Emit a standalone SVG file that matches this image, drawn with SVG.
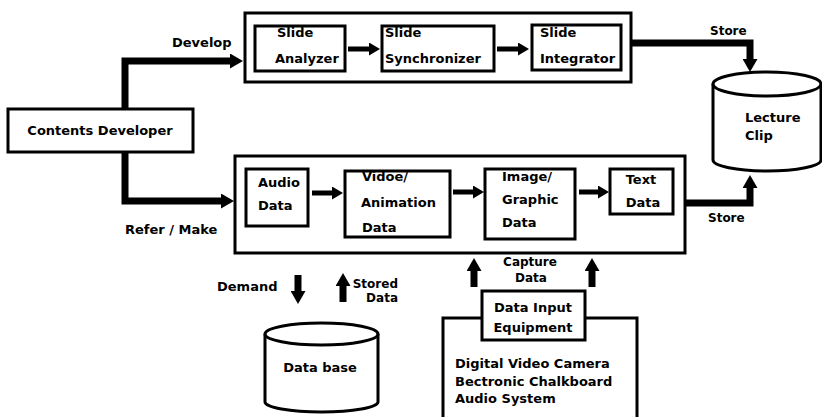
<svg xmlns="http://www.w3.org/2000/svg" width="822" height="417" viewBox="0 0 822 417">
<defs>
<marker id="bigHead" markerUnits="userSpaceOnUse" markerWidth="13" markerHeight="15" refX="0" refY="7.5" orient="auto">
<path d="M0,0 L13,7.5 L0,15 z" fill="#000"/>
</marker>
<marker id="smallHead" markerUnits="userSpaceOnUse" markerWidth="11" markerHeight="13" refX="0" refY="6.5" orient="auto">
<path d="M0,0 L11,6.5 L0,13 z" fill="#000"/>
</marker>
</defs>
<style>
.box{fill:#fff;stroke:#000;stroke-width:3}
.open{fill:none;stroke:#000;stroke-width:3}
.cyl{fill:#fff;stroke:#000;stroke-width:3}
.big{fill:none;stroke:#000;stroke-width:7;marker-end:url(#bigHead)}
.small{fill:none;stroke:#000;stroke-width:5;marker-end:url(#smallHead)}
text{font-family:"DejaVu Sans","Liberation Sans",sans-serif;font-weight:bold;fill:#000;font-size:13px}
.lbl{font-size:12px}
.mid{text-anchor:middle}
.end{text-anchor:end}
</style>
<rect width="822" height="417" fill="#fff"/>

<g id="contents-developer">
<rect class="box" x="8" y="109" width="185" height="43"/>
<text class="mid" x="100" y="135">Contents Developer</text>
</g>

<g id="slide-group">
<rect class="box" x="245" y="13" width="386" height="69"/>
</g>
<g id="slide-analyzer">
<rect class="box" x="255" y="26" width="90" height="45"/>
<text x="277" y="37">Slide</text>
<text x="275" y="63">Analyzer</text>
</g>
<g id="slide-synchronizer">
<rect class="box" x="382" y="26" width="112" height="45"/>
<text x="385" y="37">Slide</text>
<text x="385" y="63" font-size="13.5">Synchronizer</text>
</g>
<g id="slide-integrator">
<rect class="box" x="532" y="25" width="89" height="45"/>
<text x="540" y="37">Slide</text>
<text x="540" y="63">Integrator</text>
</g>

<g id="media-group">
<rect class="box" x="235" y="156" width="450" height="97"/>
</g>
<g id="audio-data">
<rect class="box" x="246" y="169" width="62" height="57"/>
<text x="258" y="187">Audio</text>
<text x="258" y="210">Data</text>
</g>
<g id="video-data">
<rect class="box" x="345" y="171" width="105" height="66"/>
<text x="362" y="181">Vidoe/</text>
<text x="361" y="207">Animation</text>
<text x="362" y="232">Data</text>
</g>
<g id="image-data">
<rect class="box" x="485" y="169" width="90" height="70"/>
<text x="502" y="181">Image/</text>
<text x="502" y="204">Graphic</text>
<text x="502" y="227">Data</text>
</g>
<g id="text-data">
<rect class="box" x="610" y="169" width="63" height="45"/>
<text class="mid" x="641" y="184">Text</text>
<text class="mid" x="643" y="207">Data</text>
</g>

<g id="lecture-clip">
<path class="cyl" d="M713,84 V160 A54,11 0 0 0 821,160 V84"/>
<ellipse class="cyl" cx="767" cy="84" rx="54" ry="12"/>
<text x="745" y="122">Lecture</text>
<text x="745" y="140">Clip</text>
</g>

<g id="data-base">
<path class="cyl" d="M265,334 V402 A56.5,10 0 0 0 378,402 V334"/>
<ellipse class="cyl" cx="321.5" cy="334" rx="56.5" ry="11"/>
<text class="mid" x="320" y="372">Data base</text>
</g>

<g id="equipment">
<path class="open" d="M443,420 V318 H637 V420"/>
<text x="455" y="368" font-size="13.5">Digital Video Camera</text>
<text x="455" y="386" font-size="13.5">Bectronic Chalkboard</text>
<text x="455" y="403" font-size="13.5">Audio System</text>
</g>
<g id="data-input-equipment">
<rect class="box" x="482" y="291" width="103" height="49"/>
<text class="mid" x="533" y="312">Data Input</text>
<text class="mid" x="533" y="332">Equipment</text>
</g>

<g id="connectors">
<path class="big" d="M125,109 V61 H230"/>
<path class="big" d="M125,152 V201 H221"/>
<path class="big" d="M632,43 H750 V59"/>
<path class="big" d="M686,203 H750 V188"/>
<path class="small" d="M348,49 H369"/>
<path class="small" d="M497,49 H518"/>
<path class="small" d="M312,193 H332"/>
<path class="small" d="M453,192 H473"/>
<path class="small" d="M579,192 H598"/>
<path class="big" d="M298,275 V291"/>
<path class="big" d="M343,302 V286"/>
<path class="big" d="M474,287 V271"/>
<path class="big" d="M592,287 V271"/>
<text x="172" y="47" font-size="11.5">Develop</text>
<text x="125" y="234">Refer / Make</text>
<text class="lbl" x="710" y="35">Store</text>
<text class="lbl" x="708" y="222">Store</text>
<text x="217" y="291" font-size="13.5">Demand</text>
<text class="lbl end" x="398" y="288">Stored</text>
<text class="lbl end" x="398" y="302">Data</text>
<text class="lbl mid" x="530" y="266">Capture</text>
<text class="lbl mid" x="531" y="282">Data</text>
</g>
</svg>
